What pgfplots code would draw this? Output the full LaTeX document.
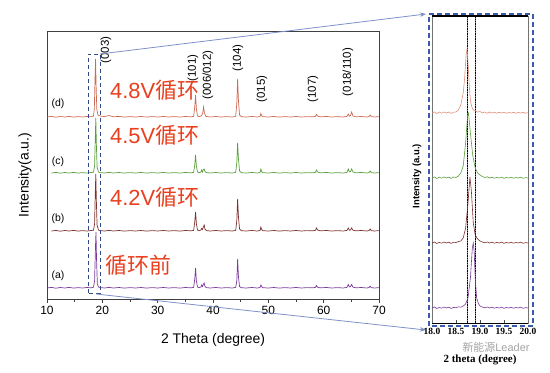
\documentclass[border=0pt]{standalone}
\usepackage{pgfplots}
\pgfplotsset{compat=1.18}
\usepackage{fontspec}
\setmainfont{Liberation Sans}
\newfontfamily\cjk{Noto Sans CJK SC}
\newfontfamily\serifb{Liberation Serif}
\usetikzlibrary{arrows.meta}
\definecolor{ca}{HTML}{7A3A9A}
\definecolor{cb}{HTML}{7E3030}
\definecolor{cc}{HTML}{5A9E3C}
\definecolor{cd}{HTML}{CC6A55}
\definecolor{cdl}{HTML}{E0907A}
\definecolor{redtxt}{HTML}{E8401E}
\definecolor{boxblue}{HTML}{3C5AAA}
\definecolor{conn}{HTML}{8090C8}
\begin{document}
\begin{tikzpicture}[x=1bp,y=1bp]
\useasboundingbox (0,0) rectangle (550,372);
% ---------------- main axis
\begin{axis}[at={(47bp,73bp)}, anchor=south west,
  width=332bp, height=268bp, scale only axis,
  xmin=10, xmax=70, ymin=0, ymax=268,
  xtick={10,20,...,70}, minor xtick={15,25,...,65}, ytick=\empty,
  xtick pos=bottom, tick align=outside,
  major tick length=4bp, minor tick length=2.5bp,
  axis line style={draw=black!75, line width=0.9pt},
  tick style={black!75, line width=0.8pt},
  ticklabel style={font=\fontsize{12}{12}\selectfont},
  /pgf/number format/assume math mode=true,
  clip=false]
% (a)
\addplot[ca, line width=0.7pt] coordinates {(10,11)(10.8,11.6)(11.6,10.8)(12.4,11.5)(13.2,11)(14,11.6)(14.8,10.9)(15.6,11.4)(16.4,11)(17.2,11.5)(18,11.2)(18.4,11.8)(18.6,18)(18.75,50)(18.85,67)(18.95,40)(19.1,15)(19.3,12)(19.6,11.5)(20.4,11)(21.2,11.6)(22,11)(23,11.5)(24,10.9)(25,11.4)(26,11)(27,11.5)(28,10.9)(29,11.4)(30,11)(31,11.5)(32,11)(33,11.4)(34,10.9)(35,11.5)(36,11.2)(36.5,11.6)(36.7,20)(36.85,31)(37.0,18)(37.2,12)(37.5,11.3)(37.8,12)(37.95,14)(38.1,12.5)(38.25,14.5)(38.4,16)(38.55,12.5)(38.8,11.4)(39.5,11)(40.5,11.5)(41.5,11)(42.5,11.4)(43.5,11)(44.1,11.6)(44.3,18)(44.45,40)(44.6,22)(44.8,12.5)(45.1,11.3)(46,11)(47,11.5)(48,11)(48.5,11.5)(48.65,14)(48.8,12.5)(49,11.3)(50,11)(51,11.5)(52,10.9)(53,11.4)(54,11)(55,11.5)(56,11)(57,11.4)(58,11.2)(58.5,11.6)(58.7,13.5)(58.9,11.8)(59.3,11.2)(60.5,11.5)(61.5,11)(62.5,11.4)(63.5,11)(64.2,11.6)(64.45,14.5)(64.65,12)(64.85,12.5)(65.05,14.5)(65.3,11.8)(65.8,11.2)(66.8,11.5)(67.8,11)(68.2,11.5)(68.4,12.8)(68.6,11.4)(69.2,11)(70,11.4)};
% (b)
\addplot[cb, line width=0.7pt] coordinates {(10.8,68)(11.6,68.6)(12.4,67.8)(13.2,68.5)(14,68)(14.8,68.6)(15.6,67.9)(16.4,68.4)(17.2,68)(18,68.5)(18.4,68.8)(18.6,75)(18.72,105)(18.82,125)(18.92,98)(19.05,74)(19.3,69)(19.6,68.4)(20.4,68)(21.2,68.6)(22,68)(23,68.5)(24,67.9)(25,68.4)(26,68)(27,68.5)(28,67.9)(29,68.4)(30,68)(31,68.5)(32,68)(33,68.4)(34,67.9)(35,68.5)(36,68.2)(36.5,68.6)(36.7,77)(36.85,87)(37.0,75)(37.2,69)(37.5,68.3)(37.8,69)(37.95,70.5)(38.1,69.5)(38.25,72)(38.4,74)(38.55,70)(38.8,68.4)(39.5,68)(40.5,68.5)(41.5,68)(42.5,68.4)(43.5,68)(44.1,68.6)(44.3,78)(44.45,100)(44.6,82)(44.8,70)(45.1,68.3)(46,68)(47,68.5)(48,68)(48.5,68.5)(48.65,72)(48.8,69.5)(49,68.3)(50,68)(51,68.5)(52,67.9)(53,68.4)(54,68)(55,68.5)(56,68)(57,68.4)(58,68.2)(58.5,68.6)(58.7,71)(58.9,69)(59.3,68.2)(60.5,68.5)(61.5,68)(62.5,68.4)(63.5,68)(64.2,68.6)(64.45,71)(64.65,68.8)(64.85,69)(65.05,71)(65.3,68.8)(65.8,68.2)(66.8,68.5)(67.8,68)(68.2,68.5)(68.4,70)(68.6,68.4)(69.2,68)(70,68.4)};
% (c)
\addplot[cc, line width=0.7pt] coordinates {(10.8,126)(11.6,126.6)(12.4,125.8)(13.2,126.5)(14,126)(14.8,126.6)(15.6,125.9)(16.4,126.4)(17.2,126)(18,126.5)(18.4,126.8)(18.6,133)(18.72,160)(18.82,181)(18.92,155)(19.05,132)(19.3,127)(19.6,126.4)(20.4,126)(21.2,126.6)(22,126)(23,126.5)(24,125.9)(25,126.4)(26,126)(27,126.5)(28,125.9)(29,126.4)(30,126)(31,126.5)(32,126)(33,126.4)(34,125.9)(35,126.5)(36,126.2)(36.5,126.6)(36.7,134)(36.85,144)(37.0,133)(37.2,127)(37.5,126.3)(37.8,127)(37.95,129)(38.1,127)(38.25,129.5)(38.4,130)(38.55,127.5)(38.8,126.4)(39.5,126)(40.5,126.5)(41.5,126)(42.5,126.4)(43.5,126)(44.1,126.6)(44.3,136)(44.45,156)(44.6,140)(44.8,128)(45.1,126.3)(46,126)(47,126.5)(48,126)(48.5,126.5)(48.65,130)(48.8,127.5)(49,126.3)(50,126)(51,126.5)(52,125.9)(53,126.4)(54,126)(55,126.5)(56,126)(57,126.4)(58,126.2)(58.5,126.6)(58.7,129)(58.9,127)(59.3,126.2)(60.5,126.5)(61.5,126)(62.5,126.4)(63.5,126)(64.2,126.6)(64.45,130)(64.65,127)(64.85,127.5)(65.05,130)(65.3,127)(65.8,126.2)(66.8,126.5)(67.8,126)(68.2,126.5)(68.4,128)(68.6,126.4)(69.2,126)(70,126.4)};
% (d)
\addplot[cd, line width=0.7pt] coordinates {(10,182)(10.8,182.6)(11.6,181.8)(12.4,182.5)(13.2,182)(14,182.6)(14.8,181.9)(15.6,182.4)(16.4,182)(17.2,182.5)(18,182.2)(18.4,183)(18.55,190)(18.68,220)(18.78,240)(18.88,212)(19.0,190)(19.2,184)(19.6,183)(20.4,182.4)(21.2,183.5)(22,182.2)(23,182.6)(24,181.9)(25,182.4)(26,182)(27,182.5)(28,181.9)(29,182.4)(30,182)(31,182.5)(32,182)(33,182.4)(34,181.9)(35,182.5)(36,182.2)(36.5,182.6)(36.7,192)(36.85,204)(37.0,190)(37.2,183)(37.5,182.3)(37.8,183)(38.0,184)(38.15,186)(38.3,192)(38.45,186)(38.7,182.6)(39.5,182)(40.5,182.5)(41.5,182)(42.5,182.4)(43.5,182)(44.1,182.6)(44.3,195)(44.45,220)(44.6,198)(44.8,184)(45.1,182.3)(46,182)(47,182.5)(48,182)(48.5,182.5)(48.65,185.5)(48.8,183.5)(49,182.3)(50,182)(51,182.5)(52,181.9)(53,182.4)(54,182)(55,182.5)(56,182)(57,182.4)(58,182.2)(58.5,182.6)(58.7,184.5)(58.9,183)(59.3,182.2)(60.5,182.5)(61.5,182)(62.5,182.4)(63.5,182)(64.2,182.6)(64.45,185)(64.65,182.8)(64.85,183.5)(65.05,187)(65.3,183)(65.8,182.2)(66.8,182.5)(67.8,182)(68.2,182.5)(68.4,184)(68.6,182.4)(69.2,182)(70,182.4)};
\draw[boxblue!80!black, dashed, dash pattern=on 4bp off 3bp, line width=0.9pt] (axis cs:17.4,6) rectangle (axis cs:19.6,245);
\end{axis}
% main labels
\node[rotate=90, font=\fontsize{14}{14}\selectfont] at (25,197) {Intensity(a.u.)};
\node[font=\fontsize{14}{14}\selectfont] at (213,32) {2 Theta (degree)};
\begin{scope}[font=\fontsize{10.5}{10.5}\selectfont]
\node at (58,268) {(d)};
\node at (58,210) {(c)};
\node at (58,153) {(b)};
\node at (58,96) {(a)};
\end{scope}
\begin{scope}[font=\fontsize{11.5}{11.5}\selectfont]
\node[rotate=90] at (106,322) {(003)};
\node[rotate=90] at (193,304) {(101)};
\node[rotate=90] at (208,297) {(006/012)};
\node[rotate=90] at (238,314) {(104)};
\node[rotate=90] at (262,283) {(015)};
\node[rotate=90] at (313,283) {(107)};
\node[rotate=90] at (348,300) {(018/110)};
\end{scope}
\begin{scope}[font=\fontsize{22}{22}\selectfont, text=redtxt, inner sep=0pt]
\node[anchor=west] at (110,282) {4.8V{\cjk 循环}};
\node[anchor=west] at (110,237) {4.5V{\cjk 循环}};
\node[anchor=west] at (110,175) {4.2V{\cjk 循环}};
\node[anchor=west] at (105,107) {{\cjk 循环前}};
\end{scope}
% connectors
\draw[conn, line width=0.8pt, -{Stealth[length=6bp]}] (100,318) -- (426,358);
\draw[conn, line width=0.8pt, -{Stealth[length=6bp]}] (96,78) -- (426,42);
% ---------------- inset axis
\begin{axis}[at={(432bp,49bp)}, anchor=south west,
  width=96bp, height=307bp, scale only axis,
  xmin=18, xmax=20, ymin=0, ymax=307,
  xtick={18,18.5,19,19.5,20}, xticklabels={18.0,18.5,19.0,19.5,20.0},
  ytick=\empty, xtick pos=bottom, tick align=inside,
  major tick length=3bp,
  axis line style={draw=black!55, line width=0.6pt},
  tick style={black!70, line width=0.6pt},
  ticklabel style={font=\serifb\bfseries\fontsize{9.5}{9.5}\selectfont, yshift=-2bp},
  clip=false]
\draw[black!50, line width=0.5pt] (axis cs:18.73,0) -- (axis cs:18.73,307);
\draw[black!50, line width=0.5pt] (axis cs:18.9,0) -- (axis cs:18.9,307);
\draw[black, densely dotted, line width=0.7pt] (axis cs:18.73,0) -- (axis cs:18.73,307);
\draw[black, densely dotted, line width=0.7pt] (axis cs:18.9,0) -- (axis cs:18.9,307);
% (a)
\addplot[ca, line width=0.6pt] coordinates {(18,15)(18.05,16)(18.1,14.5)(18.15,15.5)(18.2,14.8)(18.25,16)(18.3,15)(18.35,15.8)(18.4,14.6)(18.45,15.6)(18.5,15.2)(18.55,16.2)(18.6,15.8)(18.65,17)(18.7,19)(18.75,25)(18.8,45)(18.84,75)(18.86,80)(18.88,70)(18.9,45)(18.93,25)(18.97,19)(19.0,17)(19.05,16)(19.1,15.2)(19.15,16)(19.2,15)(19.25,15.8)(19.3,14.8)(19.35,15.6)(19.4,15)(19.45,15.8)(19.5,14.7)(19.55,15.5)(19.6,15)(19.65,15.7)(19.7,14.8)(19.75,15.5)(19.8,15)(19.85,15.8)(19.9,14.7)(19.95,15.4)(20,15)};
% (b)
\addplot[cb, line width=0.6pt] coordinates {(18,80)(18.05,81)(18.1,79.5)(18.15,80.6)(18.2,79.8)(18.25,81)(18.3,80)(18.35,80.8)(18.4,79.6)(18.45,80.8)(18.5,80.5)(18.55,81.5)(18.6,82)(18.65,85)(18.7,95)(18.75,120)(18.79,146)(18.82,132)(18.86,100)(18.9,88)(18.95,84)(19.0,82)(19.05,81)(19.1,80.2)(19.15,81)(19.2,80)(19.25,80.8)(19.3,79.8)(19.35,80.6)(19.4,80)(19.45,80.8)(19.5,79.7)(19.55,80.5)(19.6,80)(19.65,80.7)(19.7,79.8)(19.75,80.5)(19.8,80)(19.85,80.8)(19.9,79.7)(19.95,80.4)(20,80)};
% (c)
\addplot[cc, line width=0.6pt] coordinates {(18,145)(18.05,146)(18.1,144.5)(18.15,145.8)(18.2,144.8)(18.25,146)(18.3,145)(18.35,145.8)(18.4,144.6)(18.45,146)(18.5,145.5)(18.55,147)(18.6,150)(18.65,157)(18.7,180)(18.74,207)(18.76,210)(18.8,190)(18.85,167)(18.9,155)(18.95,150)(19.0,148)(19.05,146.5)(19.1,145.5)(19.15,146.2)(19.2,145)(19.25,145.8)(19.3,144.8)(19.35,145.6)(19.4,145)(19.45,145.8)(19.5,144.7)(19.55,145.5)(19.6,145)(19.65,145.7)(19.7,144.8)(19.75,145.5)(19.8,145)(19.85,145.8)(19.9,144.7)(19.95,145.4)(20,145)};
% (d)
\addplot[cdl, line width=0.6pt] coordinates {(18,210)(18.05,211)(18.1,209.5)(18.15,211)(18.2,209.8)(18.25,211)(18.3,210)(18.35,211)(18.4,209.6)(18.45,210.8)(18.5,211)(18.55,213)(18.6,218)(18.65,230)(18.68,245)(18.71,268)(18.73,274)(18.75,260)(18.78,235)(18.8,222)(18.83,216)(18.86,213)(18.9,212)(18.95,211)(19.0,211.5)(19.05,210)(19.1,211)(19.15,209.8)(19.2,211)(19.25,210)(19.3,210.8)(19.35,209.8)(19.4,210.6)(19.45,210)(19.5,210.8)(19.55,209.7)(19.6,210.5)(19.65,210)(19.7,210.7)(19.75,209.8)(19.8,210.5)(19.85,210)(19.9,210.8)(19.95,209.7)(20,210.4)};
\draw[black, line width=1.4pt] (rel axis cs:0,1) -- (rel axis cs:1,1);
\draw[black, line width=0.9pt] (rel axis cs:0,0) -- (rel axis cs:1,0);
\end{axis}
\node[rotate=90, font=\bfseries\fontsize{9.5}{9.5}\selectfont] at (417,196) {Intensity (a.u.)};
\node[font=\serifb\bfseries\fontsize{11}{11}\selectfont] at (480,12) {2 theta (degree)};
\draw[boxblue, dash pattern=on 5bp off 3bp, line width=1.3pt] (429,46) rectangle (533,358);
\node[text=black!45, opacity=0.8, font=\fontsize{11}{11}\selectfont, inner sep=1pt] at (496,25) {{\cjk 新能源}Leader};
\end{tikzpicture}
\end{document}
